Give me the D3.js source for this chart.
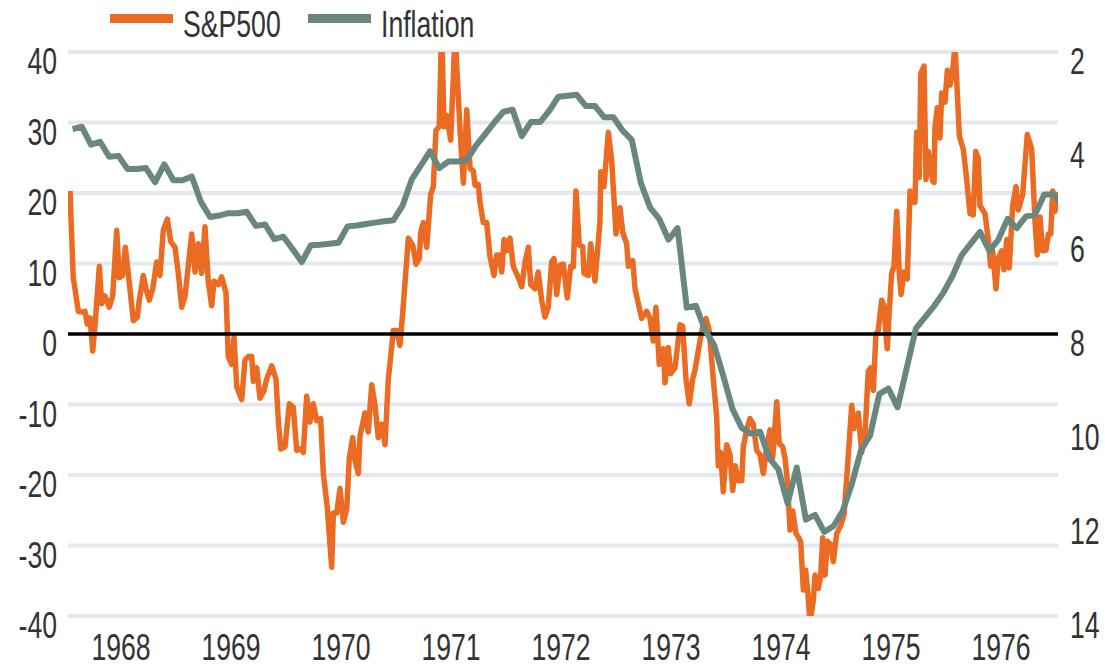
<!DOCTYPE html>
<html>
<head>
<meta charset="utf-8">
<script src="https://d3js.org/d3.v7.min.js"></script>
<style>
  body { margin: 0; background: #fff; }
  text { font-family: "Liberation Sans", Arial, sans-serif; fill: #333; }
</style>
</head>
<body>
<div id="chart"></div>
<script>
var w = 1105, h = 669;

// year labels (centred on each year)
var yearLabels = ["1968", "1969", "1970", "1971", "1972", "1973", "1974", "1975", "1976"];
var leftTicks = [40, 30, 20, 10, 0, -10, -20, -30, -40];
var rightTicks = [2, 4, 6, 8, 10, 12, 14];

// S&P500 year-on-year % change (time as decimal year)
var spYears = [
 1968.018,1968.048,1968.094,1968.134,1968.155,1968.175,1968.200,1968.225,1968.245,1968.285,1968.306,1968.336,1968.375,1968.406,1968.443,1968.466,1968.497,1968.521,1968.548,1968.594,1968.630,1968.648,1968.685,1968.709,1968.739,1968.770,1968.806,1968.836,1968.866,1968.903,1968.934,1968.973,
 1969.003,1969.034,1969.064,1969.125,1969.155,1969.185,1969.215,1969.245,1969.275,1969.306,1969.327,1969.366,1969.397,1969.436,1969.457,1969.488,1969.509,1969.534,1969.579,1969.609,1969.639,1969.670,1969.685,1969.715,1969.745,1969.782,1969.806,1969.852,1969.891,1969.912,1969.934,1969.973,
 1970.012,1970.048,1970.079,1970.115,1970.139,1970.170,1970.200,1970.230,1970.261,1970.297,1970.321,1970.357,1970.397,1970.412,1970.443,1970.473,1970.503,1970.534,1970.557,1970.588,1970.609,1970.639,1970.655,1970.700,1970.730,1970.761,1970.791,1970.821,1970.852,1970.882,1970.912,1970.934,1970.957,1970.988,
 1971.018,1971.048,1971.094,1971.134,1971.164,1971.194,1971.206,1971.230,1971.261,1971.297,1971.321,1971.345,1971.375,1971.397,1971.418,1971.443,1971.479,1971.503,1971.518,1971.564,1971.594,1971.625,1971.655,1971.685,1971.700,1971.730,1971.745,1971.775,1971.806,1971.836,1971.873,1971.897,1971.921,1971.943,1971.964,1971.988,
 1972.018,1972.048,1972.094,1972.125,1972.155,1972.185,1972.206,1972.245,1972.275,1972.306,1972.336,1972.366,1972.397,1972.418,1972.443,1972.473,1972.503,1972.539,1972.570,1972.594,1972.618,1972.648,1972.679,1972.691,1972.730,1972.752,1972.791,1972.836,1972.843,1972.873,1972.912,1972.943,1972.982,
 1973.018,1973.043,1973.079,1973.094,1973.134,1973.155,1973.185,1973.215,1973.261,1973.291,1973.321,1973.345,1973.375,1973.412,1973.427,1973.457,1973.479,1973.518,1973.564,1973.588,1973.618,1973.648,1973.679,1973.700,1973.745,1973.770,1973.800,1973.830,1973.866,1973.897,1973.912,1973.934,1973.957,1973.988,
 1974.018,1974.043,1974.066,1974.094,1974.125,1974.139,1974.170,1974.200,1974.230,1974.261,1974.291,1974.321,1974.352,1974.382,1974.406,1974.443,1974.466,1974.497,1974.518,1974.539,1974.564,1974.588,1974.618,1974.639,1974.661,1974.685,1974.706,1974.727,1974.745,1974.775,1974.791,1974.821,1974.843,1974.861,1974.882,1974.903,1974.934,1974.957,1974.988,
 1975.025,1975.055,1975.085,1975.125,1975.145,1975.185,1975.215,1975.245,1975.275,1975.297,1975.321,1975.345,1975.366,1975.397,1975.418,1975.436,1975.448,1975.466,1975.488,1975.509,1975.534,1975.557,1975.573,1975.600,1975.630,1975.655,1975.679,1975.700,1975.715,1975.739,1975.752,1975.782,1975.800,1975.821,1975.843,1975.861,1975.873,1975.882,1975.903,1975.927,1975.943,1975.973,1975.994,
 1976.018,1976.043,1976.064,1976.103,1976.139,1976.170,1976.200,1976.230,1976.252,1976.275,1976.291,1976.336,1976.366,1976.388,1976.406,1976.436,1976.457,1976.488,1976.509,1976.534,1976.557,1976.588,1976.618,1976.639,1976.679,1976.721,1976.761,1976.791,1976.812,1976.836,1976.861,1976.891,1976.912,1976.934,1976.952,1976.973,1977.003
];
var spValues = [
 20.3,8.0,3.2,3.1,3.2,1.4,2.3,-2.4,1.1,9.6,4.3,5.4,3.8,5.4,14.7,8.0,8.3,12.3,8.6,1.9,2.4,4.8,8.3,6.4,4.8,6.4,10.2,8.3,14.7,16.3,13.1,12.3,
 8.6,3.8,5.4,14.2,8.8,12.8,8.6,15.2,7.5,4.0,7.5,7.0,8.1,5.9,-3.2,-4.3,-0.5,-7.5,-9.3,-3.7,-3.2,-3.2,-6.7,-4.8,-9.1,-8.0,-6.4,-4.5,-6.4,-12.3,-16.3,-16.0,
 -9.9,-10.4,-16.5,-16.3,-16.8,-8.8,-12.5,-9.9,-12.3,-12.0,-19.8,-24.6,-33.1,-25.4,-25.4,-21.9,-26.7,-24.8,-17.6,-14.7,-17.9,-19.8,-14.4,-11.2,-13.9,-7.2,-10.1,-14.7,-12.8,-15.7,-6.4,-3.2,0.5,0.5,
 -1.6,4.0,13.6,12.6,9.9,10.7,14.4,15.8,12.3,19.8,20.9,28.9,29.4,44,29.4,31.0,27.5,36.4,43,28.9,21.4,31.8,23.5,23.1,21.1,21.2,18.7,15.8,15.8,11.0,8.3,11.2,11.2,8.8,13.4,11.8,
 13.6,9.6,8.0,6.7,10.2,12.3,7.0,6.4,8.8,4.8,2.4,3.8,10.2,10.7,5.6,9.8,9.9,5.1,9.6,9.5,20.3,12.6,12.4,8.6,8.3,12.8,7.5,16.0,23.0,20.9,28.6,24.6,14.2,
 17.9,14.4,12.8,9.6,10.4,6.4,4.3,2.2,3.2,2.2,-1.0,3.8,-4.3,-2.1,-6.9,-1.9,-5.6,-4.8,1.3,1.1,-6.4,-9.9,-6.4,-5.1,-1.0,1.1,2.2,0.5,-6.4,-11.7,-18.7,-16.8,-22.4,-15.7,
 -17.1,-22.2,-18.7,-20.8,-20.8,-16.0,-13.6,-12.0,-12.8,-16.5,-17.1,-19.8,-16.0,-13.6,-17.6,-9.6,-15.5,-16.0,-17.6,-20.8,-27.8,-25.1,-28.3,-28.8,-29.5,-36.3,-33.5,-36.9,-41,-37.9,-34.2,-36.1,-34.2,-28.9,-34.2,-29.4,-29.9,-32.3,-28.3,
 -27.2,-25.6,-19.2,-10.1,-13.4,-11.2,-16.8,-14.4,-5.3,-4.8,-8.0,0.0,0.5,4.8,4.0,0.0,-2.1,3.2,8.6,9.6,17.4,8.6,5.6,8.8,7.8,20.3,18.7,18.7,28.6,22.2,36.9,38.0,21.9,25.9,23.5,21.7,21.5,29.4,32.1,27.8,34.2,32.9,37.4,
 35.3,37.4,41,28.1,26.2,21.9,17.1,16.9,25.9,24.9,18.2,17.1,13.4,9.6,11.8,6.4,10.7,11.8,9.1,13.4,9.4,18.2,20.9,17.6,19.8,28.3,26.2,16.0,11.2,16.6,11.8,11.9,14.2,14.2,20.3,17.4,20.1
];

// CPI inflation %, monthly from Jan 1968 (right axis, inverted)
var inflationStart = 1968;
var inflation = [
 3.64,3.59,3.97,3.91,4.23,4.21,4.49,4.49,4.47,4.77,4.39,4.73,
 4.73,4.65,5.19,5.51,5.48,5.43,5.43,5.40,5.70,5.67,5.98,5.93,
 6.19,6.47,6.11,6.10,6.08,6.06,5.71,5.69,5.66,5.63,5.60,5.58,
 5.27,4.71,4.41,4.11,4.47,4.33,4.33,4.30,3.99,3.75,3.50,3.27,
 3.23,3.79,3.49,3.49,3.25,2.95,2.93,2.91,3.15,3.15,3.39,3.39,
 3.67,3.87,4.79,5.31,5.55,5.99,5.75,7.44,7.40,7.92,8.24,8.90,
 9.60,10.00,10.12,10.08,10.64,10.88,11.60,10.84,11.95,11.85,12.21,12.09,
 11.77,11.20,10.48,10.16,9.28,9.16,9.56,8.72,7.88,7.64,7.40,7.12,
 6.76,6.32,6.07,5.83,6.23,5.99,5.55,5.75,5.50,5.46,5.03,5.03,
 5.27
];

var plotL = 68, plotR = 1058, plotT = 52, plotB = 616;

var svg = d3.select("#chart")
  .append("svg")
  .attr("width", w)
  .attr("height", h)
  .style("background", "#FFFFFF");

var x = d3.scaleLinear().domain([1968, 1977]).range([plotL, plotR]);
var y = d3.scaleLinear().domain([-40, 40]).range([plotB, plotT]);
var y2 = d3.scaleLinear().domain([2, 14]).range([plotT, plotB]);

var sx = 0.72; // narrow look of the labels

// gridlines
svg.append("g")
  .selectAll("line")
  .data(leftTicks.filter(function(d) { return d !== 0; }))
  .enter()
  .append("line")
  .attr("x1", plotL).attr("x2", plotR)
  .attr("y1", function(d) { return y(d); })
  .attr("y2", function(d) { return y(d); })
  .attr("stroke", "#E4E7EE")
  .attr("stroke-width", 4);

// left labels
svg.append("g")
  .selectAll("text")
  .data(leftTicks)
  .enter()
  .append("text")
  .attr("transform", function(d) { return "translate(57," + (y(d) + 22) + ") scale(" + sx + ",1)"; })
  .attr("text-anchor", "end")
  .style("font-size", "37px")
  .text(function(d) { return d; });

// right labels
svg.append("g")
  .selectAll("text")
  .data(rightTicks)
  .enter()
  .append("text")
  .attr("transform", function(d) { return "translate(1070," + (y2(d) + 22) + ") scale(" + sx + ",1)"; })
  .attr("text-anchor", "start")
  .style("font-size", "37px")
  .text(function(d) { return d; });

// year labels
svg.append("g")
  .selectAll("text")
  .data(yearLabels)
  .enter()
  .append("text")
  .attr("transform", function(d) { return "translate(" + (x(+d + 0.5) - 2) + ",660) scale(" + sx + ",1)"; })
  .attr("text-anchor", "middle")
  .style("font-size", "37px")
  .text(function(d) { return d; });

// clip
svg.append("clipPath").attr("id", "clip")
  .append("rect")
  .attr("x", plotL).attr("y", plotT)
  .attr("width", plotR - plotL).attr("height", plotB - plotT);

var spData = spYears.map(function(t, i) { return [t, spValues[i]]; });
var infData = inflation.map(function(v, i) { return [inflationStart + (i + 0.5) / 12, v]; });

var spLine = d3.line()
  .x(function(d) { return x(d[0]); })
  .y(function(d) { return y(d[1]); });
var infLine = d3.line()
  .x(function(d) { return x(d[0]); })
  .y(function(d) { return y2(d[1]); });

svg.append("path")
  .datum(spData)
  .attr("clip-path", "url(#clip)")
  .attr("d", spLine)
  .attr("fill", "none")
  .attr("stroke", "#EB6B22")
  .attr("stroke-width", 5.5)
  .attr("stroke-linejoin", "round");

// zero line
svg.append("line")
  .attr("x1", plotL).attr("x2", plotR)
  .attr("y1", y(0)).attr("y2", y(0))
  .attr("stroke", "#000")
  .attr("stroke-width", 3.5);

svg.append("path")
  .datum(infData)
  .attr("clip-path", "url(#clip)")
  .attr("d", infLine)
  .attr("fill", "none")
  .attr("stroke", "#6A877F")
  .attr("stroke-width", 6)
  .attr("stroke-linejoin", "round");

// legend
var legend = [
  { name: "S&P500", color: "#EB6B22", x: 110 },
  { name: "Inflation", color: "#6A877F", x: 308 }
];
var lg = svg.selectAll(".lg")
  .data(legend)
  .enter()
  .append("g")
  .attr("class", "lg");
lg.append("rect")
  .attr("x", function(d) { return d.x; })
  .attr("y", 14)
  .attr("width", 63)
  .attr("height", 9)
  .attr("fill", function(d) { return d.color; });
lg.append("text")
  .attr("transform", function(d) { return "translate(" + (d.x + 73) + ",37) scale(" + sx + ",1)"; })
  .style("font-size", "37px")
  .text(function(d) { return d.name; });
</script>
</body>
</html>
